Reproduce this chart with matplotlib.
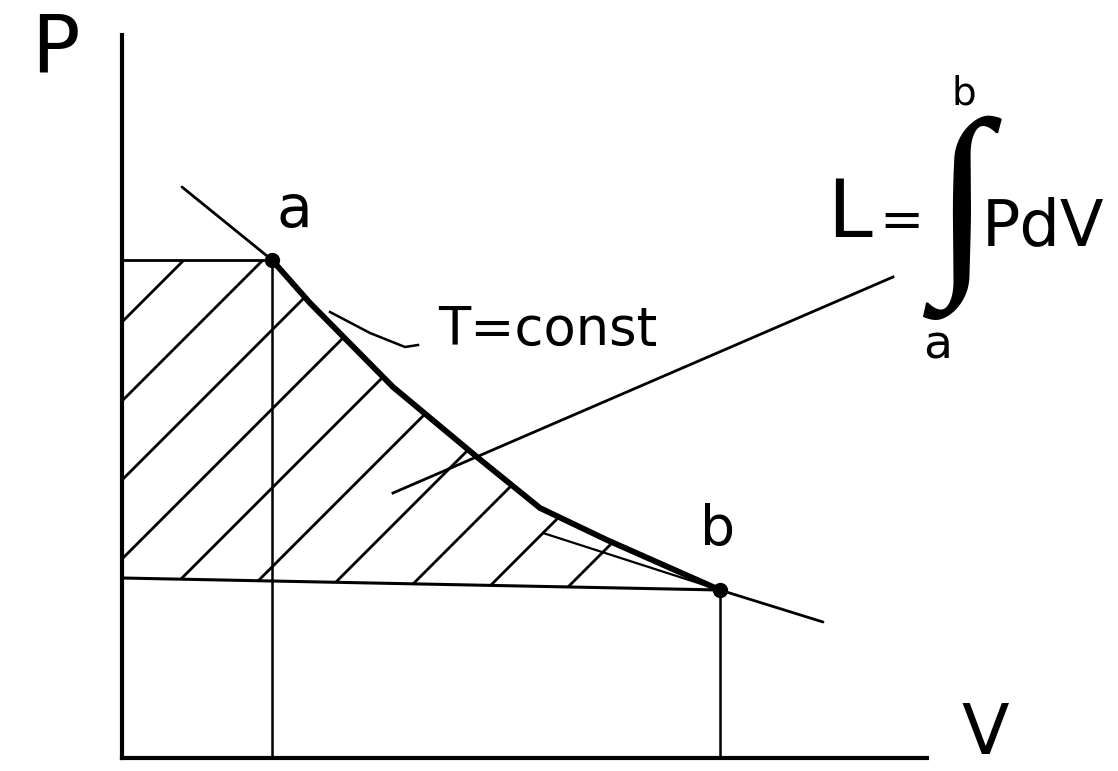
"""Hand-sketched P-V diagram: isothermal work L = integral of P dV from a to b."""

import matplotlib

matplotlib.use("Agg")
import matplotlib.pyplot as plt
import numpy as np
from matplotlib.patches import Polygon

# --- data (V, P in arbitrary units) ---
state_names = ["a", "b"]
state_v = [1.50, 5.98]
state_p = [4.98, 1.68]

# isotherm T = const
iso_v = [0.60, 1.50, 1.88, 2.71, 3.55, 4.18, 4.85, 5.98, 7.01]
iso_p = [5.71, 4.98, 4.55, 3.71, 3.01, 2.50, 2.18, 1.68, 1.36]

# lower edge of hatched area (slightly tilted in the drawing)
base_v = [0.0, 5.98]
base_p = [1.80, 1.68]

# pointer lines
tconst_v = [2.08, 2.48, 2.83, 2.96]
tconst_p = [4.46, 4.25, 4.11, 4.13]
work_v = [2.71, 7.71]
work_p = [2.65, 4.81]
ghost_v = [4.21, 5.98]
ghost_p = [2.25, 1.68]

LN = "black"
FONT = "DejaVu Sans"

fig = plt.figure(figsize=(11.18, 7.71), dpi=100)
fig.patch.set_facecolor("white")
ax = fig.add_axes([122 / 1118, 13 / 771, 805 / 1118, 723 / 771])
ax.set_xlim(0, 8.05)
ax.set_ylim(0, 7.23)
for side in ("top", "right"):
    ax.spines[side].set_visible(False)
for side in ("left", "bottom"):
    ax.spines[side].set_linewidth(3.0)
    ax.spines[side].set_color(LN)
ax.set_xticks([])
ax.set_yticks([])

va_, vb_ = state_v
pa_, pb_ = state_p

# guide lines to the axes
ax.plot([0, va_], [pa_, pa_], color=LN, lw=2.0)
ax.plot([va_, va_], [0, pa_], color=LN, lw=1.8)
ax.plot([vb_, vb_], [0, pb_], color=LN, lw=1.8)
ax.plot(base_v, base_p, color=LN, lw=2.2)

# hatched work area, clipped to the region under the isotherm
i_a = iso_v.index(va_)
i_b = iso_v.index(vb_)
region = [(0, base_p[0]), (0, pa_)] + list(zip(iso_v[i_a:i_b + 1], iso_p[i_a:i_b + 1]))
clip = Polygon(region, closed=True, facecolor="none", edgecolor="none")
ax.add_patch(clip)
vv = np.array([-1.0, 9.0])
for d in np.arange(-4.36, 2.80, 0.79):
    (ln,) = ax.plot(vv, vv - d, color=LN, lw=2.0)
    ln.set_clip_path(clip)

# isotherm
ax.plot(iso_v, iso_p, color=LN, lw=2.0, solid_capstyle="round")
ax.plot(iso_v[i_a:i_b + 1], iso_p[i_a:i_b + 1], color=LN, lw=4.2,
        solid_capstyle="round", solid_joinstyle="round")
ax.plot(ghost_v, ghost_p, color=LN, lw=1.6)
ax.plot(state_v, state_p, "o", color=LN, ms=10)

# pointers
ax.plot(tconst_v, tconst_p, color=LN, lw=1.8)
ax.plot(work_v, work_p, color=LN, lw=2.0, clip_on=False)

# labels
txt = dict(color=LN, family=FONT, clip_on=False)
ax.text(-0.67, 7.08, "P", fontsize=58, ha="center", va="center", **txt)
ax.text(8.63, 0.24, "V", fontsize=50, ha="center", va="center", **txt)
ax.text(1.72, 5.48, state_names[0], fontsize=42, ha="center", va="center", **txt)
ax.text(5.96, 2.28, state_names[1], fontsize=40, ha="center", va="center", **txt)
ax.text(3.16, 4.13, "T=const", fontsize=38, ha="left", va="baseline", **txt)

# L = ∫_a^b P dV
ax.text(7.28, 5.43, "L", fontsize=58, ha="center", va="center", **txt)
ax.text(7.80, 5.36, "=", fontsize=38, ha="center", va="center", **txt)
ax.text(8.40, 5.40, "\u222b", fontsize=150, ha="center", va="center",
        color=LN, family="Liberation Serif", clip_on=False)
ax.text(8.42, 6.65, state_names[1], fontsize=28, ha="center", va="center", **txt)
ax.text(8.16, 4.12, state_names[0], fontsize=34, ha="center", va="center", **txt)
ax.text(8.60, 5.31, "PdV", fontsize=46, ha="left", va="center", **txt)

fig.savefig("out.png", dpi=100, facecolor="white")
